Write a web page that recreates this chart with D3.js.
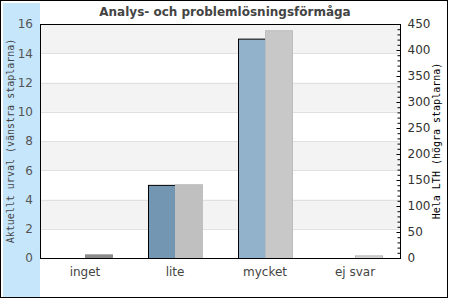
<!DOCTYPE html>
<html>
<head>
<meta charset="utf-8">
<script src="https://cdn.jsdelivr.net/npm/d3@7"></script>
<style>
  body { margin: 0; background: #fff; }
  svg { display: block; }
</style>
</head>
<body>
<div id="chart"></div>
<script>
// data
var categories = ["inget", "lite", "mycket", "ej svar"];
var urval = [0, 5, 15, 0];          // left axis, 0-16
var helaLTH = [7, 142, 438, 5];     // right axis, 0-450
var leftTicks = [0, 2, 4, 6, 8, 10, 12, 14, 16];
var rightTicks = [0, 50, 100, 150, 200, 250, 300, 350, 400, 450];

var title = "Analys- och problemlösningsförmåga";
var leftTitle = "Aktuellt urval (vänstra staplarna)";
var rightTitle = "Hela LTH (högra staplarna)";

// bar colours per category
var blueFill = ["#7396b2", "#7396b2", "#92b2cc", "#92b2cc"];
var greyFill = ["#8c8c8c", "#c0c0c0", "#c8c8c8", "#d6d6d6"];
var greyStroke = ["#8c8c8c", "#c0c0c0", "#bcbcbc", "#b4b4b4"];

var W = 450, H = 300;
var margin = {top: 24, right: 50, bottom: 42, left: 40},
    width = W - margin.left - margin.right,
    height = H - margin.top - margin.bottom;

var svg = d3.select("#chart").append("svg")
  .attr("width", W).attr("height", H);

// outer frame + blue strip
svg.append("rect")
  .attr("x", 0.5).attr("y", 0.5).attr("width", 447).attr("height", 297)
  .attr("fill", "#fff").attr("stroke", "#000");
svg.append("rect")
  .attr("x", 3).attr("y", 3).attr("width", 37).attr("height", 294)
  .attr("fill", "#c6e6fc");

var g = svg.append("g")
  .attr("transform", "translate(" + margin.left + "," + margin.top + ")");

var x = d3.scaleBand().domain(categories).range([0, width]);
var yL = d3.scaleLinear().domain([0, 16]).range([height, 0]);
var yR = d3.scaleLinear().domain([0, 450]).range([height, 0]);

// alternating bands
for (var i = 0; i < leftTicks.length - 1; i++) {
  if (i % 2 == 1) {
    g.append("rect")
      .attr("x", 0).attr("width", width)
      .attr("y", yL(leftTicks[i + 1]))
      .attr("height", yL(leftTicks[i]) - yL(leftTicks[i + 1]))
      .attr("fill", "#f3f3f3");
  }
}
// grid lines
g.selectAll(".grid").data(leftTicks.slice(1, -1)).enter().append("line")
  .attr("x1", 0).attr("x2", width)
  .attr("y1", function(d) { return Math.round(yL(d)) + 0.5; })
  .attr("y2", function(d) { return Math.round(yL(d)) + 0.5; })
  .attr("stroke", "#e0e0e0");

var bw = x.bandwidth() * 0.3;

// left bars (blue)
g.selectAll(".blue").data(urval).enter().append("rect")
  .filter(function(d) { return d > 0; })
  .attr("x", function(d, i) { return x(categories[urval.indexOf(d)]) + x.bandwidth() / 2 - bw + 0.5; })
  .attr("y", function(d) { return yL(d) + 0.5; })
  .attr("width", bw)
  .attr("height", function(d) { return height - yL(d); })
  .attr("fill", function(d) { return blueFill[urval.indexOf(d)]; })
  .attr("stroke", "#000");

// right bars (grey)
g.selectAll(".grey").data(helaLTH).enter().append("rect")
  .attr("x", function(d, i) { return x(categories[i]) + x.bandwidth() / 2 + 0.5; })
  .attr("y", function(d) { return yR(d) + 0.5; })
  .attr("width", bw)
  .attr("height", function(d) { return height - yR(d); })
  .attr("fill", function(d, i) { return greyFill[i]; })
  .attr("stroke", function(d, i) { return greyStroke[i]; });

// frame of plot
g.append("rect")
  .attr("x", 0.5).attr("y", 0.5).attr("width", width).attr("height", height)
  .attr("fill", "none").attr("stroke", "#000");

// left axis labels
var lax = g.append("g")
  .call(d3.axisLeft(yL).tickValues(leftTicks).tickSize(0).tickPadding(7));
lax.select(".domain").remove();
lax.selectAll("text")
  .attr("font-family", "DejaVu Sans").attr("font-size", 12).attr("fill", "#555");

// right axis with minor ticks
var minor = d3.range(0, 451, 10);
var rmin = g.append("g").attr("transform", "translate(" + (width + 0.5) + ",0)")
  .call(d3.axisLeft(yR).tickValues(minor).tickSize(3).tickFormat(""));
rmin.select(".domain").remove();
var rax = g.append("g").attr("transform", "translate(" + (width + 0.5) + ",0)")
  .call(d3.axisRight(yR).tickValues(rightTicks).tickSize(0).tickPadding(7));
rax.select(".domain").remove();
g.append("g").attr("transform", "translate(" + (width + 0.5) + ",0)")
  .selectAll("line").data(rightTicks).enter().append("line")
  .attr("x1", -4).attr("x2", 0)
  .attr("y1", function(d) { return yR(d) + 0.5; })
  .attr("y2", function(d) { return yR(d) + 0.5; })
  .attr("stroke", "#000");
rax.selectAll("text")
  .attr("font-family", "DejaVu Sans").attr("font-size", 12).attr("fill", "#333");

// x axis labels
var xax = g.append("g").attr("transform", "translate(0," + height + ")")
  .call(d3.axisBottom(x).tickSize(0).tickPadding(9));
xax.select(".domain").remove();
xax.selectAll("text")
  .attr("font-family", "DejaVu Sans").attr("font-size", 12).attr("fill", "#444");

// titles
svg.append("text")
  .attr("x", 225).attr("y", 16)
  .attr("text-anchor", "middle")
  .attr("font-family", "DejaVu Sans").attr("font-weight", "bold")
  .attr("font-size", 12).attr("fill", "#444")
  .text(title);

svg.append("text")
  .attr("transform", "translate(14," + (margin.top + height / 2) + ") rotate(-90)")
  .attr("text-anchor", "middle")
  .attr("font-family", "DejaVu Sans Mono").attr("font-size", 10).attr("fill", "#444")
  .text(leftTitle);

svg.append("text")
  .attr("transform", "translate(440," + (margin.top + height / 2) + ") rotate(-90)")
  .attr("text-anchor", "middle")
  .attr("font-family", "DejaVu Sans Mono").attr("font-size", 10).attr("fill", "#000")
  .text(rightTitle);
</script>
</body>
</html>
